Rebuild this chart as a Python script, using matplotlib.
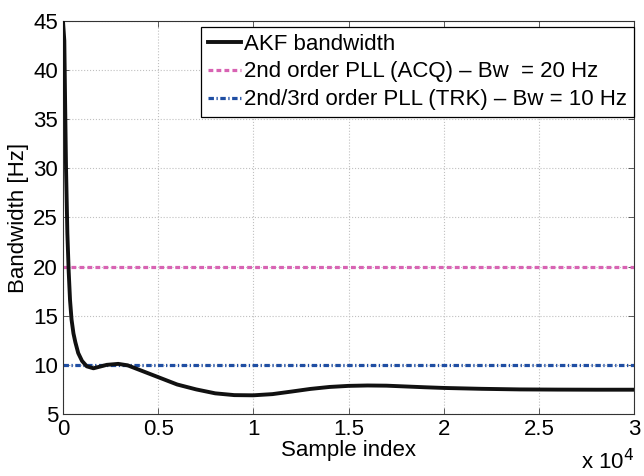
import matplotlib
matplotlib.use("Agg")
from matplotlib import pyplot as plt

plt.rcParams['font.family'] = ['Liberation Sans', 'DejaVu Sans']

# AKF bandwidth curve
sample_idx = [0, 70, 110, 160, 230, 300, 370, 450, 550, 650, 800, 1000, 1250,
              1600, 1900, 2300, 2900, 3400, 4000, 5000, 6000, 7000, 8000,
              9000, 10000, 11000, 12000, 13000, 14000, 15000, 16000, 17000,
              18000, 19000, 20000, 22000, 24000, 26000, 28000, 30000]
akf_bw = [45, 43, 37, 30, 23.4, 19.5, 16.6, 14.6, 13.2, 12.3, 11.2, 10.4, 9.85,
          9.65, 9.8, 10.0, 10.1, 9.95, 9.5, 8.75, 8.0, 7.5, 7.1,
          6.92, 6.9, 7.02, 7.28, 7.55, 7.75, 7.86, 7.9, 7.88,
          7.8, 7.72, 7.65, 7.56, 7.5, 7.48, 7.47, 7.47]

acq_bw = 20
trk_bw = 10
x_range = [0, 30000]

xticks = [0, 5000, 10000, 15000, 20000, 25000, 30000]
xtick_labels = ['0', '0.5', '1', '1.5', '2', '2.5', '3']
yticks = [5, 10, 15, 20, 25, 30, 35, 40, 45]

fig = plt.figure(figsize=(6.44, 4.76), dpi=100)
ax = fig.add_axes([0.0978, 0.1303, 0.8867, 0.8256])

ax.plot(sample_idx, akf_bw, color='#111111', lw=2.8, label='AKF bandwidth', zorder=3)
ax.plot(x_range, [acq_bw, acq_bw], color='#d863b3', lw=2.3,
        linestyle=(0, (1.5, 1.0)), label='2nd order PLL (ACQ) – Bw  = 20 Hz')
ax.plot(x_range, [trk_bw, trk_bw], color='#1f4ea3', lw=2.3,
        linestyle=(0, (1.7, 0.8, 0.4, 0.8)),
        label='2nd/3rd order PLL (TRK) – Bw = 10 Hz')

ax.set_xlim(0, 30000)
ax.set_ylim(5, 45)
ax.set_xticks(xticks)
ax.set_xticklabels(xtick_labels)
ax.set_yticks(yticks)
ax.tick_params(direction='in', length=4, labelsize=16, width=0.6, color='#444444',
               top=True, right=True)
ax.grid(True, linestyle=':', color='#c0c0c0', lw=0.8)
for s in ax.spines.values():
    s.set_color('#333333')
    s.set_linewidth(0.8)

ax.set_xlabel('Sample index', fontsize=16, labelpad=0)
ax.set_ylabel('Bandwidth [Hz]', fontsize=16, labelpad=3)
ax.text(1.0, -0.14, r'x 10$^4$', transform=ax.transAxes, ha='right', va='baseline',
        fontsize=16)

leg = ax.legend(loc='upper right', bbox_to_anchor=(1.0, 0.985), borderaxespad=0,
                fontsize=16, handlelength=1.5, handletextpad=0.15,
                labelspacing=0.31, borderpad=0.3, fancybox=False,
                edgecolor='black', framealpha=1)
leg.get_frame().set_linewidth(0.9)

fig.savefig('out.png', dpi=100)
